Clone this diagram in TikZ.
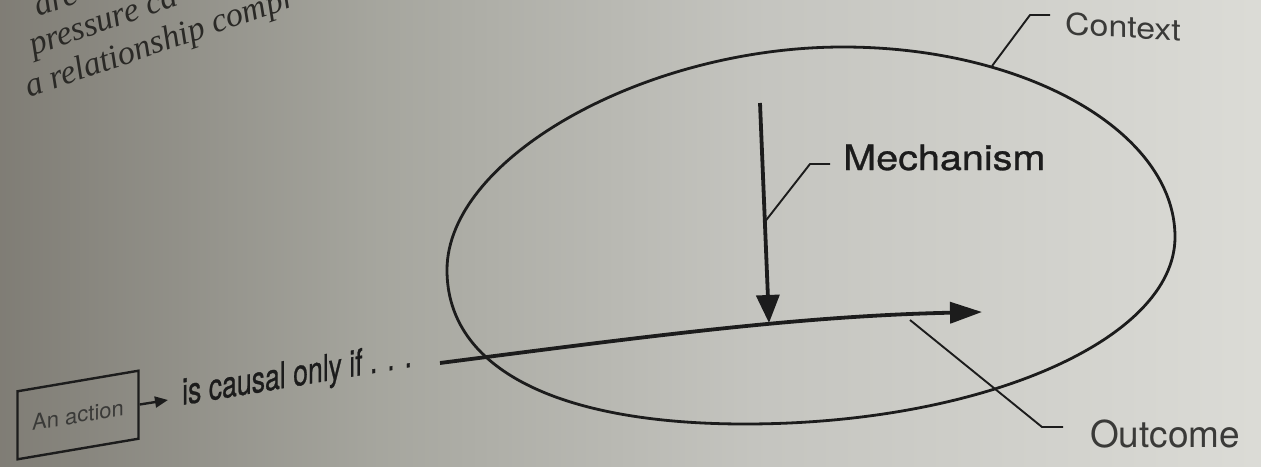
\documentclass[tikz,border=0pt]{standalone}
\usepackage{fontspec}
\setmainfont{TeX Gyre Heros}
\newfontfamily\semifont[FakeBold=0.8]{TeX Gyre Heros}
\newfontfamily\bookfont{Liberation Serif}
\usetikzlibrary{arrows.meta}
\pgfdeclarehorizontalshading{paper}{100bp}{rgb(0bp)=(0.50,0.49,0.46); rgb(25bp)=(0.50,0.49,0.46); rgb(40bp)=(0.65,0.65,0.62); rgb(55bp)=(0.77,0.77,0.75); rgb(75bp)=(0.86,0.86,0.84); rgb(100bp)=(0.86,0.86,0.84)}
\definecolor{ink}{HTML}{1C1C1C}
\definecolor{softink}{HTML}{3A3A38}
\definecolor{bookink}{HTML}{2A2926}
\begin{document}
\begin{tikzpicture}[x=1pt,y=-1pt,
  inkline/.style={draw=ink, line join=round},
  leader/.style={inkline, line width=1.9pt},
  lbl/.style={inner sep=0pt, text=ink, anchor=base west},
  booktext/.style={inner sep=0pt, text=bookink, anchor=base west, rotate=19,
                   font=\bookfont\itshape\fontsize{34}{38}\selectfont},
]
\useasboundingbox (0,0) rectangle (1261,466);
\shade[shading=paper] (0,0) rectangle (1261,466);

% partial book text at the top left
\begin{scope}
  \clip (0,0) rectangle (1261,466);
  \node[booktext] (b1) at (38,17) {are};
  \node[booktext] (b2) at (33,56) {pressure ca};
  \node[booktext] (b3) at (29,98) {a relationship compr};
\end{scope}

% extreme points of the context ellipse
\coordinate (eL) at (447,270);
\coordinate (eB) at (745,424);
\coordinate (eR) at (1175,237);
\coordinate (eT) at (843,47);
\draw[inkline, line width=2.8pt]
  (eL) .. controls (447,370) and (560,424) ..
  (eB) .. controls (981,424) and (1175,340) ..
  (eR) .. controls (1175,132) and (1026,47) ..
  (eT) .. controls (645,47) and (447,158) .. cycle;

% coordinates
\coordinate (ms) at (440,363);
\coordinate (me) at (982,312);
\coordinate (mtop) at (760,103);
\coordinate (mtip) at (769,323);
\path (mtop) -- (mtip) coordinate[pos=0.54] (mleg);
\coordinate (mk) at (810,164);
\coordinate (mk2) at (830,164);
\coordinate (cleg) at (992,66);
\coordinate (ck) at (1030,15);
\coordinate (ck2) at (1050,15);
\coordinate (oleg) at (910,320);
\coordinate (ok) at (1042,427);
\coordinate (ok2) at (1063,427);
\coordinate (ca) at (168,400);

% action -> outcome line
\draw[inkline, line width=3.8pt, -{Triangle[length=32pt,width=21pt]}]
  (ms) .. controls (650,336) and (800,316) .. (me);
% mechanism arrow
\draw[inkline, line width=3.8pt, -{Triangle[length=28pt,width=23pt]}]
  (mtop) -- (mtip);

% labels
\node[lbl, font=\semifont\fontsize{35}{40}\selectfont, xscale=1.13] (mech) at (843,170) {Mechanism};
\node[lbl, text=softink, font=\fontsize{30}{34}\selectfont, xscale=1.13, yslant=-0.07] (ctx) at (1065,34) {Context};
\node[lbl, text=softink, font=\fontsize{37}{42}\selectfont] (outc) at (1090,447) {Outcome};

% leaders
\draw[leader] (mleg) -- (mk) -- (mk2);
\draw[leader] (cleg) -- (ck) -- (ck2);
\draw[leader] (oleg) -- (ok) -- (ok2);

% action box and caption
\node[draw=ink, line width=2.4pt, inner sep=0pt, minimum width=121pt, minimum height=68pt,
      yslant=0.17, text=softink, font=\fontsize{22}{25}\selectfont] (action) at (78,415) {An action};
\node[lbl, font=\semifont\fontsize{37}{42}\selectfont, xscale=0.72, yslant=0.12] (causal) at (182,405) {is causal only if . . .};
\draw[inkline, line width=2.4pt, -{Triangle[length=13pt,width=11pt]}] (action.east) -- (ca);
\end{tikzpicture}
\end{document}
